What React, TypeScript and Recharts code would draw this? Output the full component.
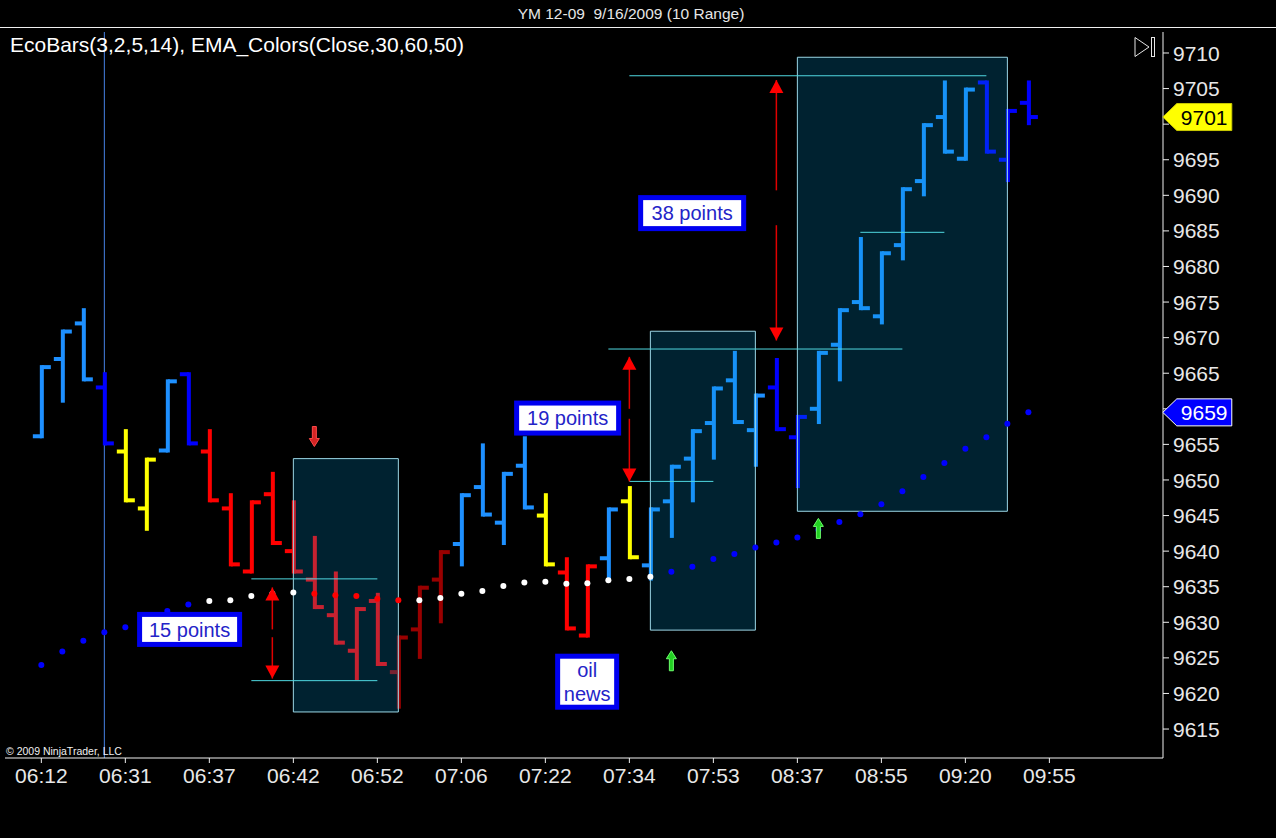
import React from 'react';
import {
  ComposedChart,
  Bar,
  Line,
  XAxis,
  YAxis,
  ReferenceArea,
  ReferenceLine,
  ReferenceDot,
} from 'recharts';

// tick labels, one every 4 bars
const timeLabels = ['06:12', '06:31', '06:37', '06:42', '06:52', '07:06', '07:22', '07:34', '07:53', '08:37', '08:55', '09:20', '09:55'];
const priceTicks = [9615, 9620, 9625, 9630, 9635, 9640, 9645, 9650, 9655, 9660, 9665, 9670, 9675, 9680, 9685, 9690, 9695, 9700, 9705, 9710];

// 10 range bars
const barOpen = [9656, 9667, 9672, 9663, 9654, 9646, 9654, 9665, 9654, 9646, 9637, 9648, 9640, 9636, 9631, 9626, 9633, 9623, 9629, 9636, 9641, 9649, 9644, 9652, 9645, 9637, 9628, 9639, 9647, 9638, 9647, 9653, 9658, 9664, 9657, 9663, 9656, 9660, 9669, 9675, 9673, 9683, 9692, 9701, 9695, 9706, 9695, 9703];
const barHigh = [9666, 9671, 9674, 9665, 9657, 9653, 9664, 9665, 9657, 9648, 9647, 9651, 9647, 9642, 9637, 9632, 9634, 9628, 9635, 9640, 9648, 9655, 9651, 9656, 9648, 9639, 9638, 9646, 9649, 9646, 9652, 9657, 9663, 9668, 9662, 9667, 9659, 9668, 9674, 9684, 9682, 9691, 9700, 9706, 9705, 9706, 9702, 9706];
const barLow = [9656, 9661, 9664, 9655, 9647, 9643, 9654, 9655, 9647, 9638, 9637, 9641, 9637, 9632, 9627, 9622, 9624, 9618, 9625, 9630, 9638, 9645, 9641, 9646, 9638, 9629, 9628, 9636, 9639, 9636, 9642, 9647, 9653, 9658, 9652, 9657, 9649, 9658, 9664, 9674, 9672, 9681, 9690, 9696, 9695, 9696, 9692, 9700];
const barClose = [9666, 9671, 9664, 9655, 9647, 9653, 9664, 9655, 9647, 9638, 9647, 9641, 9637, 9632, 9627, 9632, 9624, 9628, 9635, 9640, 9648, 9645, 9651, 9646, 9638, 9629, 9638, 9646, 9639, 9646, 9652, 9657, 9663, 9658, 9662, 9657, 9659, 9668, 9674, 9674, 9682, 9691, 9700, 9696, 9705, 9696, 9702, 9701];
// L light blue, D dark blue, Y yellow, R red, M dark red
const barColorKey = ['L', 'L', 'L', 'D', 'Y', 'Y', 'L', 'D', 'R', 'R', 'R', 'R', 'R', 'R', 'R', 'R', 'R', 'M', 'M', 'M', 'L', 'L', 'L', 'L', 'Y', 'R', 'R', 'L', 'Y', 'L', 'L', 'L', 'L', 'L', 'L', 'D', 'D', 'L', 'L', 'L', 'L', 'L', 'L', 'L', 'L', 'D', 'D', 'D'];

// EMA dots
const emaValue = [9624.0, 9625.9, 9627.4, 9628.6, 9629.3, 9630.3, 9631.6, 9632.5, 9633.0, 9633.1, 9633.7, 9634.0, 9634.2, 9634.0, 9633.8, 9633.7, 9633.3, 9633.1, 9633.1, 9633.4, 9634.0, 9634.4, 9635.1, 9635.6, 9635.7, 9635.4, 9635.5, 9635.9, 9636.1, 9636.4, 9637.1, 9637.8, 9638.9, 9639.6, 9640.5, 9641.2, 9641.9, 9643.0, 9644.1, 9645.2, 9646.6, 9648.4, 9650.4, 9652.4, 9654.4, 9656.0, 9657.9, 9659.5];
const emaColorKey = ['B', 'B', 'B', 'B', 'B', 'B', 'B', 'B', 'W', 'W', 'W', 'W', 'W', 'R', 'R', 'R', 'R', 'R', 'W', 'W', 'W', 'W', 'W', 'W', 'W', 'W', 'W', 'W', 'W', 'W', 'B', 'B', 'B', 'B', 'B', 'B', 'B', 'B', 'B', 'B', 'B', 'B', 'B', 'B', 'B', 'B', 'B', 'B'];

const BAR_COLORS: Record<string, string> = { L: '#1e90ff', D: '#0000ff', Y: '#ffff00', R: '#ff0000', M: '#990000' };
const DOT_COLORS: Record<string, string> = { B: '#0000ff', W: '#ffffff', R: '#ff0000' };

const data = barOpen.map((open, i) => ({
  i,
  open,
  high: barHigh[i],
  low: barLow[i],
  close: barClose[i],
  range: [barLow[i], barHigh[i]],
  color: BAR_COLORS[barColorKey[i]],
  ema: emaValue[i],
  emaColor: DOT_COLORS[emaColorKey[i]],
}));

// drawing annotations (data coordinates)
const boxes = [
  { x1: 12, x2: 17, y1: 9617.4, y2: 9653 },
  { x1: 29, x2: 34, y1: 9628.9, y2: 9670.9 },
  { x1: 36, x2: 46, y1: 9645.6, y2: 9709.4 },
];
const levelLines = [
  { y: 9636.1, x1: 10, x2: 16 },
  { y: 9621.8, x1: 10, x2: 16 },
  { y: 9649.8, x1: 28, x2: 32 },
  { y: 9668.4, x1: 27, x2: 41 },
  { y: 9706.8, x1: 28, x2: 45 },
  { y: 9684.8, x1: 39, x2: 43 },
];
const rulers = [
  { x: 11, top: 9634.9, bottom: 9622.1, gapTop: 9629.0, gapBottom: 9627.9 },
  { x: 28, top: 9667.3, bottom: 9649.8, gapTop: 9660.0, gapBottom: 9658.6 },
  { x: 35, top: 9706.2, bottom: 9669.6, gapTop: 9690.7, gapBottom: 9685.8 },
];
const markers = [
  { x: 13, y: 9654.7, dir: 'down', fill: '#d42424', stroke: '#ff4a4a' },
  { x: 30, y: 9626.0, dir: 'up', fill: '#22d022', stroke: '#6cff6c' },
  { x: 37, y: 9644.6, dir: 'up', fill: '#22d022', stroke: '#6cff6c' },
];
const notes = [
  { x: 7.06, y: 9629.0, w: 105, h: 35, lines: ['15 points'] },
  { x: 25.06, y: 9658.7, w: 107, h: 35, lines: ['19 points'] },
  { x: 30.99, y: 9687.5, w: 108, h: 36, lines: ['38 points'] },
  { x: 25.99, y: 9621.65, w: 64, h: 56, lines: ['oil', 'news'] },
];

const FONT = '"Liberation Sans", Arial, sans-serif';
const X_DOMAIN: [number, number] = [-1.73, 53.41];
const lastClose = barClose[barClose.length - 1];
const lastEma = emaValue[emaValue.length - 1];
const tagValues = [lastClose, lastEma];

const RangeBar = (props: any) => {
  const { x, y, width, height, payload } = props;
  if (x == null || y == null || !payload) return null;
  const cx = x + width / 2;
  const top = Math.min(y, y + height);
  const bottom = Math.max(y, y + height);
  const span = payload.high - payload.low || 1;
  const at = (v: number) => top + ((payload.high - v) / span) * (bottom - top);
  const tickY = (v: number) => Math.min(Math.max(at(v) - 2, top - 1), bottom - 3);
  return (
    <g fill={payload.color}>
      <rect x={cx - 2} y={top - 1} width={4} height={bottom - top + 2} />
      <rect x={cx - 9} y={tickY(payload.open)} width={9} height={4} />
      <rect x={cx} y={tickY(payload.close)} width={9} height={4} />
    </g>
  );
};

const EmaDot = (props: any) => {
  const { cx, cy, payload, index } = props;
  if (cx == null || cy == null) return <g key={`ema-${index}`} />;
  return <circle key={`ema-${index}`} cx={cx} cy={cy} r={3} fill={payload.emaColor} />;
};

// price labels hidden under the last-price / EMA tags, as on the platform
const PriceTick = (props: any) => {
  const { x, y, payload } = props;
  if (tagValues.some((t) => Math.abs(t - payload.value) < 2.5)) return <g />;
  return (
    <text x={x} y={y} dy="0.36em" textAnchor="start" fontSize={21} fontFamily={FONT} fill="#e8e8e8">
      {payload.value}
    </text>
  );
};

const arrowHead = (dir: 'up' | 'down') => (p: any) => {
  const s = dir === 'up' ? 1 : -1;
  return (
    <polygon
      points={`${p.cx},${p.cy} ${p.cx - 7},${p.cy + 13 * s} ${p.cx + 7},${p.cy + 13 * s}`}
      fill="#ff0000"
    />
  );
};

const blockArrow = (dir: string, fill: string, stroke: string) => (p: any) => {
  const s = dir === 'up' ? 1 : -1;
  const pts = [[0, 0], [-5, 8], [-2, 8], [-2, 20], [2, 20], [2, 8], [5, 8]]
    .map(([dx, dy]) => `${p.cx + dx},${p.cy + dy * s}`)
    .join(' ');
  return <polygon points={pts} fill={fill} stroke={stroke} strokeWidth={1} />;
};

const noteBox = (w: number, h: number, lines: string[]) => (p: any) => (
  <g>
    <rect x={p.cx - w / 2} y={p.cy - h / 2} width={w} height={h} fill="#0000f0" />
    <rect x={p.cx - w / 2 + 5} y={p.cy - h / 2 + 5} width={w - 10} height={h - 10} fill="#ffffff" />
    {lines.map((t, k) => (
      <text
        key={k}
        x={p.cx}
        y={p.cy + (k - (lines.length - 1) / 2) * 24}
        dy="0.36em"
        textAnchor="middle"
        fontSize={20}
        fontFamily={FONT}
        fill="#2424c8"
      >
        {t}
      </text>
    ))}
  </g>
);

const priceTag = (label: string, fill: string, color: string, border: string) => (p: any) => {
  const { cx, cy } = p;
  return (
    <g>
      <polygon
        points={`${cx},${cy} ${cx + 14},${cy - 13.5} ${cx + 69},${cy - 13.5} ${cx + 69},${cy + 13.5} ${cx + 14},${cy + 13.5}`}
        fill={fill}
        stroke={border}
        strokeWidth={1}
      />
      <text x={cx + 18} y={cy} dy="0.36em" fontSize={21} fontFamily={FONT} fill={color}>
        {label}
      </text>
    </g>
  );
};

export default function App() {
  return (
    <div style={{ position: 'absolute', left: 0, top: 0, width: 1276, height: 838, background: '#000', overflow: 'hidden' }}>
      <ComposedChart
        width={1276}
        height={838}
        data={data}
        margin={{ top: 32, right: 0, bottom: 0, left: 5 }}
        style={{ fontFamily: FONT }}
      >
        <ReferenceLine x={3} stroke="#4682e6" strokeWidth={1} zIndex={50} />
        <XAxis
          type="number"
          dataKey="i"
          domain={X_DOMAIN}
          allowDataOverflow
          ticks={timeLabels.map((_, k) => k * 4)}
          interval={0}
          tickFormatter={(v: number) => timeLabels[Math.round(v / 4)] ?? ''}
          height={80}
          tickSize={5}
          tickMargin={5}
          axisLine={{ stroke: '#f0f0f0' }}
          tickLine={{ stroke: '#f0f0f0' }}
          tick={{ fill: '#e8e8e8', fontSize: 21, fontFamily: FONT }}
        />
        <YAxis
          orientation="right"
          type="number"
          domain={[9610.93, 9712.95]}
          allowDataOverflow
          ticks={priceTicks}
          interval={0}
          width={113}
          tickSize={6}
          tickMargin={4}
          axisLine={{ stroke: '#f0f0f0' }}
          tickLine={{ stroke: '#f0f0f0' }}
          tick={PriceTick}
        />
        <Bar
          dataKey="range"
          barSize={8}
          isAnimationActive={false}
          shape={(p: any) => <RangeBar {...p} />}
        />
        <Line
          dataKey="ema"
          stroke="none"
          dot={EmaDot}
          activeDot={false}
          isAnimationActive={false}
        />
        {boxes.map((b, k) => (
          <ReferenceArea
            key={`box-${k}`}
            x1={b.x1}
            x2={b.x2}
            y1={b.y1}
            y2={b.y2}
            fill="rgb(0,155,218)"
            fillOpacity={0.22}
            stroke="#9bd7e6"
            strokeWidth={1}
            zIndex={450}
          />
        ))}
        {levelLines.map((l, k) => (
          <ReferenceLine
            key={`lvl-${k}`}
            segment={[{ x: l.x1, y: l.y }, { x: l.x2, y: l.y }]}
            stroke="#4fd8e0"
            strokeWidth={1}
            zIndex={460}
          />
        ))}
        {rulers.map((r, k) => (
          <ReferenceLine
            key={`rt-${k}`}
            segment={[{ x: r.x, y: r.top }, { x: r.x, y: r.gapTop }]}
            stroke="#e00000"
            strokeWidth={1.5}
            zIndex={470}
          />
        ))}
        {rulers.map((r, k) => (
          <ReferenceLine
            key={`rb-${k}`}
            segment={[{ x: r.x, y: r.gapBottom }, { x: r.x, y: r.bottom }]}
            stroke="#e00000"
            strokeWidth={1.5}
            zIndex={470}
          />
        ))}
        {rulers.map((r, k) => (
          <ReferenceDot key={`ht-${k}`} x={r.x} y={r.top} r={0} shape={arrowHead('up')} zIndex={700} />
        ))}
        {rulers.map((r, k) => (
          <ReferenceDot key={`hb-${k}`} x={r.x} y={r.bottom} r={0} shape={arrowHead('down')} zIndex={700} />
        ))}
        {markers.map((m, k) => (
          <ReferenceDot key={`mk-${k}`} x={m.x} y={m.y} r={0} shape={blockArrow(m.dir, m.fill, m.stroke)} zIndex={700} />
        ))}
        {notes.map((n, k) => (
          <ReferenceDot key={`nt-${k}`} x={n.x} y={n.y} r={0} shape={noteBox(n.w, n.h, n.lines)} zIndex={710} />
        ))}
        <ReferenceDot
          x={53.4}
          y={lastClose}
          r={0}
          shape={priceTag(String(lastClose), '#ffff00', '#000000', '#c8c800')}
          zIndex={800}
        />
        <ReferenceDot
          x={53.4}
          y={lastEma}
          r={0}
          shape={priceTag(String(Math.floor(lastEma)), '#0000ff', '#ffffff', '#ffffff')}
          zIndex={800}
        />
      </ComposedChart>
      <svg
        width={1276}
        height={838}
        style={{ position: 'absolute', left: 0, top: 0, pointerEvents: 'none' }}
      >
        <text
          x={631}
          y={13}
          dy="0.36em"
          textAnchor="middle"
          fontSize={15.5}
          fontFamily={FONT}
          fill="#e6e6e6"
          style={{ whiteSpace: 'pre' }}
        >
          {'YM 12-09  9/16/2009 (10 Range)'}
        </text>
        <line x1={0} x2={1276} y1={27.5} y2={27.5} stroke="#f0f0f0" strokeWidth={1} />
        <text x={10} y={44} dy="0.36em" fontSize={21} fontFamily={FONT} fill="#ffffff">
          EcoBars(3,2,5,14), EMA_Colors(Close,30,60,50)
        </text>
        <polygon points="1135,37.5 1149,47 1135,56.5" fill="none" stroke="#e6e6e6" strokeWidth={1} />
        <rect x={1151.5} y={37.5} width={3} height={19} fill="none" stroke="#e6e6e6" strokeWidth={1} />
        <text x={6} y={751} dy="0.36em" fontSize={10.5} fontFamily={FONT} fill="#f0f0f0">
          © 2009 NinjaTrader, LLC
        </text>
      </svg>
    </div>
  );
}
